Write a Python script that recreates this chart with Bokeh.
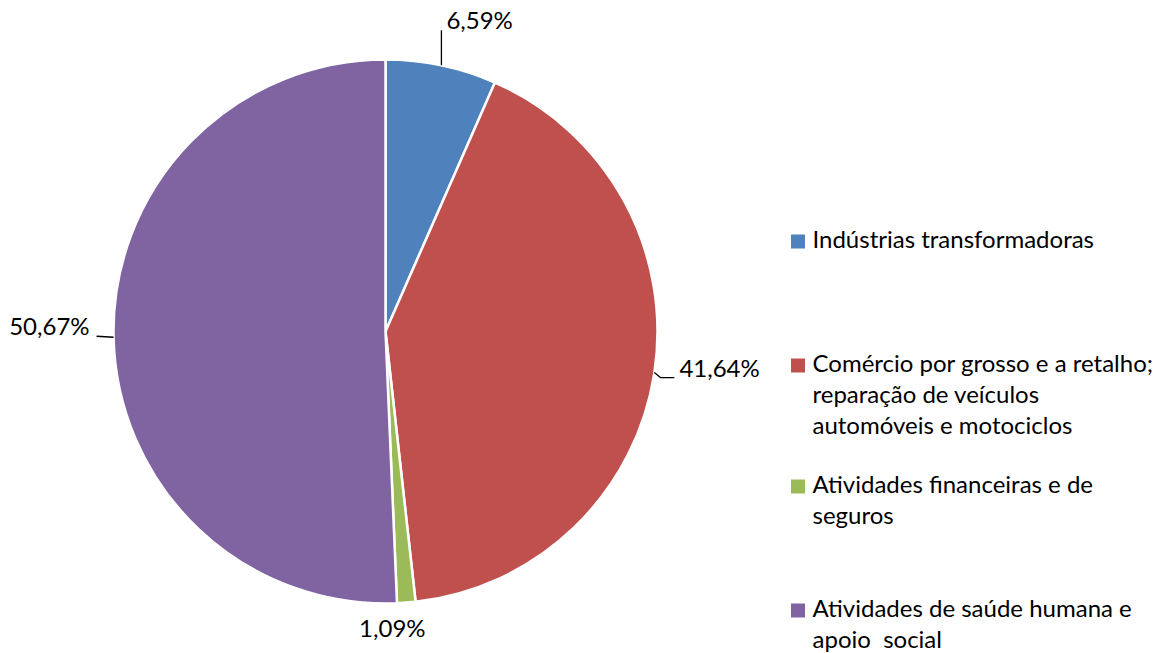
import math
from bokeh.plotting import figure
from bokeh.models import Range1d
from bokeh.core.properties import value
from bokeh.embed import file_html
from bokeh.resources import INLINE

# ---- data ----
categories = [
    "Indústrias transformadoras",
    "Comércio por grosso e a retalho;\nreparação de veículos\nautomóveis e motociclos",
    "Atividades financeiras e de\nseguros",
    "Atividades de saúde humana e\napoio\u00a0 social",
]
values = [6.59, 41.64, 1.09, 50.67]
colors = ["#4F81BD", "#C0504D", "#9BBB59", "#8064A2"]

# ---- layout / style ----
W, H = 1172, 653
FONT = "Lato"
FSN = 24
FS = f"{FSN}px"
BSHIFT = 0.41 * FSN  # correction so that visual baseline lands where wanted
cx_px, cy_px, R = 385, 331, 272


def Y(py):
    return H - py


def YT(py):
    return H - (py - BSHIFT)


p = figure(width=W, height=H, output_backend="svg", toolbar_location=None,
           x_range=Range1d(0, W), y_range=Range1d(0, H), min_border=0)
p.axis.visible = False
p.grid.visible = False
p.outline_line_color = None
p.background_fill_color = "white"
p.border_fill_color = "white"

total = sum(values)
cum = 0.0
starts, ends, mids = [], [], []
for v in values:
    a0 = math.pi / 2 - 2 * math.pi * cum / total
    cum += v
    a1 = math.pi / 2 - 2 * math.pi * cum / total
    starts.append(a0)
    ends.append(a1)
    mids.append((a0 + a1) / 2)

p.wedge(x=[cx_px] * len(values), y=[Y(cy_px)] * len(values), radius=R,
        start_angle=starts, end_angle=ends, direction="clock",
        fill_color=colors, line_color="white", line_width=2.5)

labels = [f"{v:.2f}".replace(".", ",") + "%" for v in values]

label_style = [
    dict(leader=[(0, 0), (0, -35)], text=(5, -36), align="left"),
    dict(leader=[(0, 0), (6, 5), (20, 5)], text=(25, 5), align="left"),
    dict(leader=None, text=(-14, 35), align="center"),
    dict(leader=[(0, 0), (-17, -1)], text=(-24, -2), align="right"),
]
for i, m in enumerate(mids):
    ex = cx_px + R * math.cos(m)
    ey = cy_px - R * math.sin(m)
    st = label_style[i]
    if st["leader"]:
        xs = [ex + dx for dx, dy in st["leader"]]
        ys = [Y(ey + dy) for dx, dy in st["leader"]]
        p.line(xs, ys, line_color="black", line_width=1.3)
    tx, ty = ex + st["text"][0], ey + st["text"][1]
    p.text(x=[tx], y=[YT(ty)], text=[labels[i]], text_font=value(FONT),
           text_font_size=FS, text_align=st["align"], text_baseline="alphabetic",
           text_color="black")

# legend
legend_first_baselines = [248, 372, 493, 617]
line_h = 31
sq = 14
for i, cat in enumerate(categories):
    b = legend_first_baselines[i]
    p.rect(x=[797.5], y=[Y(b - 7)], width=sq, height=sq,
           fill_color=colors[i], line_color=None)
    for j, ln in enumerate(cat.split("\n")):
        p.text(x=[812], y=[YT(b + j * line_h)], text=[ln], text_font=value(FONT),
               text_font_size=FS, text_align="left", text_baseline="alphabetic",
               text_color="black")

open("out.html", "w").write(file_html(p, INLINE))
